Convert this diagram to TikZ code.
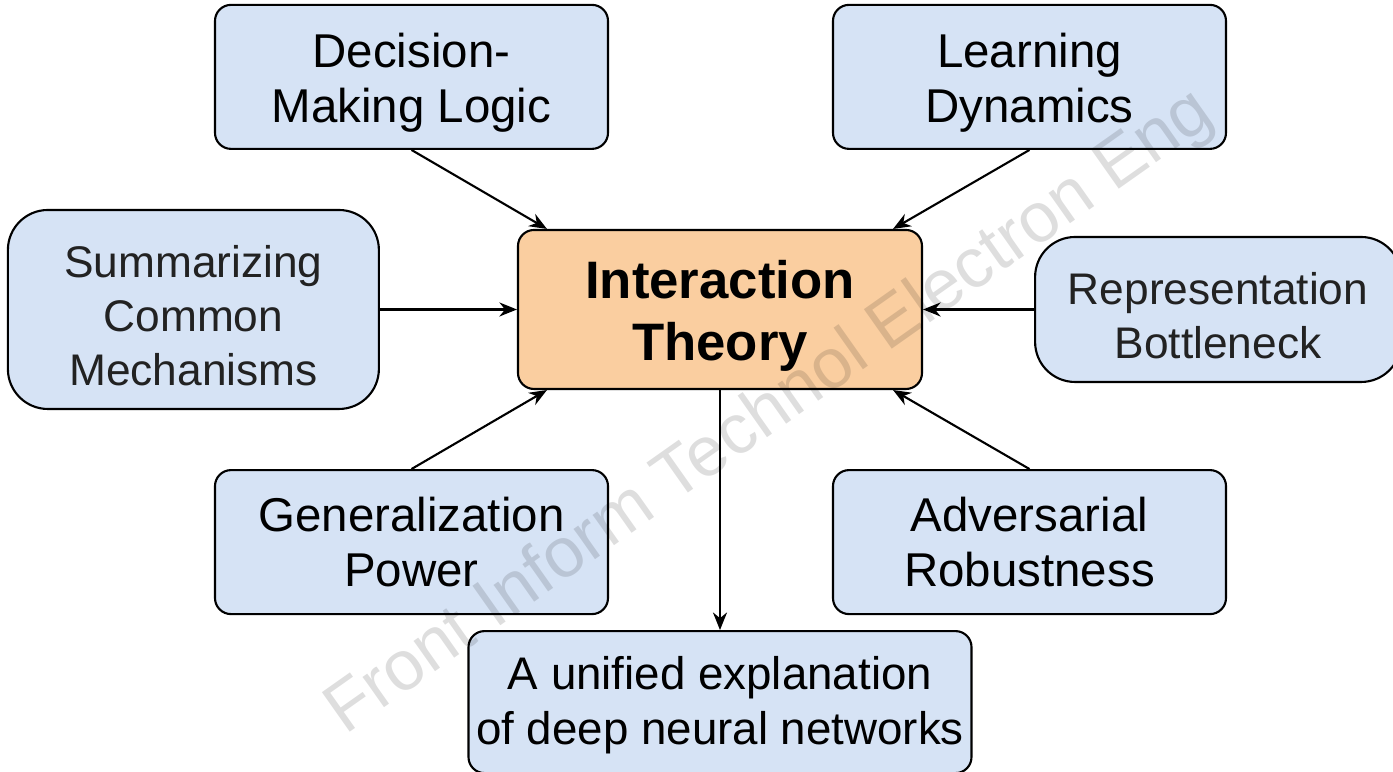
\documentclass[tikz,border=0pt]{standalone}
\usepackage{fontspec}
\setmainfont{Liberation Sans}
\usepackage{xcolor}
\usepackage{tikz}
\usetikzlibrary{positioning, arrows.meta}
\definecolor{boxblue}{RGB}{214,227,245}
\definecolor{coreorange}{RGB}{250,206,160}
\definecolor{softtext}{RGB}{34,34,34}
\newcommand{\lift}[1][13.2pt]{\rule{0pt}{#1}}
\tikzset{
  topic/.style={
    rectangle, rounded corners=0.16cm, draw=black, line width=0.6pt,
    fill=boxblue, align=center, inner sep=2pt,
    minimum width=3.93cm, minimum height=1.44cm,
    font=\fontsize{13.5}{15.6}\selectfont
  },
  side/.style={topic, rounded corners=0.4cm, text=softtext,
    font=\fontsize{12.6}{15.4}\selectfont},
  core/.style={topic, fill=coreorange, minimum width=4.04cm, minimum height=1.59cm,
    font=\fontsize{15}{17.6}\selectfont\bfseries},
  every edge/.style={draw, -{Stealth[length=5pt,width=4pt]}, line width=0.6pt},
  watermark/.style={font=\fontsize{20}{24}\selectfont, text=black,
    text opacity=0.13, rotate=35.2, anchor=base},
}

\begin{document}
\begin{tikzpicture}
  \useasboundingbox (0,0) rectangle (13.93,-7.72);
  \clip (0,0) rectangle (13.93,-7.72);
  \node[core] (theory) at (7.20,-3.095) {\lift[14.4pt]Interaction\\Theory};
  \node[topic, above=0.79cm of theory, xshift=-3.085cm] (decision) {\lift Decision-\\Making Logic};
  \node[topic, above=0.79cm of theory, xshift=3.095cm] (learning) {\lift Learning\\Dynamics};
  \node[side, left=1.37cm of theory, minimum width=3.71cm, minimum height=1.99cm] (summary) {\lift[12.6pt]Summarizing\\Common\\Mechanisms};
  \node[side, right=1.11cm of theory, minimum width=3.66cm, minimum height=1.45cm] (bottleneck) {\lift[12.6pt]Representation\\Bottleneck};
  \node[topic, below=0.79cm of theory, xshift=-3.085cm] (general) {Generalization\\Power};
  \node[topic, below=0.79cm of theory, xshift=3.095cm] (robust) {Adversarial\\Robustness};
  \node[topic, below=2.40cm of theory, minimum width=5.03cm, minimum height=1.42cm,
        font=\fontsize{13}{15.4}\selectfont] (unified) {\lift[11.2pt]A unified explanation\\of deep neural networks};
  \path (decision.south) edge ([xshift=3mm]theory.north west)
        (learning.south) edge ([xshift=-3mm]theory.north east)
        (summary.east) edge (summary.east -| theory.west)
        (bottleneck.west) edge (bottleneck.west -| theory.east)
        (general.north) edge ([xshift=3mm]theory.south west)
        (robust.north) edge ([xshift=-3mm]theory.south east)
        (theory.south) edge (unified.north);
  \node[watermark] (mark) at (7.81,-4.28) {Front Inform Technol Electron Eng};
\end{tikzpicture}
\end{document}
